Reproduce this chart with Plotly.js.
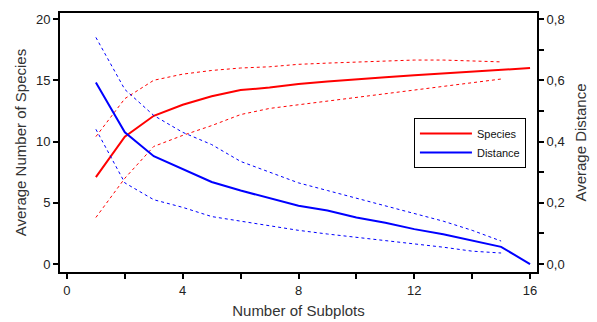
<!DOCTYPE html>
<html>
<head>
<meta charset="utf-8">
<script src="https://cdn.plot.ly/plotly-3.0.1.min.js"></script>
<style>html,body{margin:0;padding:0;background:#fff;}#chart{width:597px;height:322px;}</style>
</head>
<body>
<div id="chart"></div>
<script>
var subplots = [1,2,3,4,5,6,7,8,9,10,11,12,13,14,15,16];
var subplotsCI = [1,2,3,4,5,6,7,8,9,10,11,12,13,14,15];
var speciesMean = [7.1,10.4,12.1,13.0,13.7,14.2,14.4,14.7,14.9,15.1,15.25,15.4,15.55,15.7,15.85,16.0];
var speciesUpper = [10.4,13.5,15.0,15.5,15.8,16.0,16.1,16.3,16.4,16.5,16.6,16.65,16.65,16.6,16.5];
var speciesLower = [3.8,7.0,9.6,10.5,11.3,12.2,12.7,13.0,13.3,13.6,13.85,14.15,14.45,14.8,15.1];
var distanceMean = [0.593,0.43,0.352,0.31,0.268,0.24,0.215,0.19,0.175,0.152,0.135,0.114,0.097,0.077,0.056,0.0];
var distanceUpper = [0.74,0.57,0.485,0.43,0.39,0.335,0.30,0.265,0.24,0.215,0.19,0.165,0.14,0.11,0.075];
var distanceLower = [0.44,0.265,0.21,0.185,0.155,0.14,0.125,0.11,0.098,0.087,0.077,0.067,0.055,0.042,0.036];
var xTickVals = [0,2,4,6,8,10,12,14,16];
var xTickText = ['0','','4','','8','','12','','16'];
var y2TickVals = [0,0.1,0.2,0.3,0.4,0.5,0.6,0.7,0.8];
var y2TickText = ['0,0','','0,2','','0,4','','0,6','','0,8'];

var RED = '#ff0000', BLUE = '#0000ff';
var traces = [
  {x: subplotsCI, y: speciesUpper, mode:'lines', line:{color:RED, width:1, dash:'3px,3px'}, showlegend:false, hoverinfo:'skip'},
  {x: subplotsCI, y: speciesLower, mode:'lines', line:{color:RED, width:1, dash:'3px,3px'}, showlegend:false, hoverinfo:'skip'},
  {x: subplotsCI, y: distanceUpper, yaxis:'y2', mode:'lines', line:{color:BLUE, width:1, dash:'3px,3px'}, showlegend:false, hoverinfo:'skip'},
  {x: subplotsCI, y: distanceLower, yaxis:'y2', mode:'lines', line:{color:BLUE, width:1, dash:'3px,3px'}, showlegend:false, hoverinfo:'skip'},
  {x: subplots, y: speciesMean, name:'Species', mode:'lines', line:{color:RED, width:2}},
  {x: subplots, y: distanceMean, name:'Distance', yaxis:'y2', mode:'lines', line:{color:BLUE, width:2}}
];

var FONT = 'Liberation Sans, Arial, sans-serif';
var layout = {
  width: 597, height: 322,
  margin: {l:60, r:60, t:13, b:50, pad:0},
  paper_bgcolor:'#ffffff', plot_bgcolor:'#ffffff',
  font: {family: FONT, color:'#222', size:13},
  showlegend: true,
  legend: {x:0.742, y:0.595, xanchor:'left', yanchor:'top', bordercolor:'#000', borderwidth:1, bgcolor:'#fff',
           font:{family:FONT, size:11, color:'#111'}, tracegroupgap:0, itemwidth:52},
  xaxis: {range:[-0.24,16.24], showgrid:false, zeroline:false, showline:true, linecolor:'#000', linewidth:2,
          mirror:true, ticks:'outside', ticklen:5, tickwidth:2, tickcolor:'#000',
          tickvals:xTickVals, ticktext:xTickText, tickfont:{size:13, color:'#222'},
          title:{text:'Number of Subplots', font:{size:15, color:'#333'}, standoff:9}},
  yaxis: {range:[-0.65,20.49], showgrid:false, zeroline:false, showline:true, linecolor:'#000', linewidth:2,
          ticks:'outside', ticklen:5, tickwidth:2, tickcolor:'#000', dtick:5, tick0:0,
          tickfont:{size:13, color:'#222'},
          title:{text:'Average Number of Species', font:{size:15, color:'#333'}, standoff:6}},
  yaxis2: {range:[-0.026,0.8196], overlaying:'y', side:'right', showgrid:false, zeroline:false, showline:true,
          linecolor:'#000', linewidth:2, ticks:'outside', ticklen:5, tickwidth:2, tickcolor:'#000',
          tickvals:y2TickVals, ticktext:y2TickText, tickfont:{size:13, color:'#222'},
          title:{text:'Average Distance', font:{size:15, color:'#333'}, standoff:12}}
};
Plotly.newPlot('chart', traces, layout, {staticPlot:true, displayModeBar:false});
</script>
</body>
</html>
